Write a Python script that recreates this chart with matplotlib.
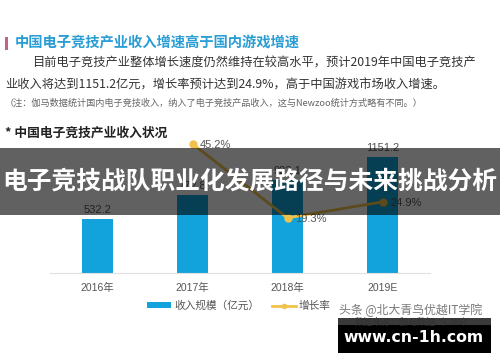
import matplotlib.pyplot as plt
import matplotlib.patches as patches
from matplotlib.lines import Line2D

plt.rcParams['font.family'] = ['Noto Sans CJK SC', 'DejaVu Sans']

years = ['2016年', '2017年', '2018年', '2019E']
revenue = [532.2, 772.8, 922.1, 1151.2]
growth = [None, 45.2, 19.3, 24.9]
revenue_labels = ['532.2', '772.8', '922.1', '1151.2']

W, H = 500, 362
fig = plt.figure(figsize=(5, 3.62), dpi=100)
fig.patch.set_facecolor('white')


def px(x, y):
    # pixel coords (from top-left) to figure fraction
    return x / W, 1 - y / H


# header texts
fig.patches.append(patches.Rectangle(px(5, 50), 3 / W, 13 / H, transform=fig.transFigure,
                                     facecolor='#c2648a', edgecolor='none'))
fig.text(*px(15, 43), '中国电子竞技产业收入增速高于国内游戏增速', fontsize=10.3,
         fontweight='bold', color='#2a9ed4', va='center')
fig.text(*px(32, 63), '目前电子竞技产业整体增长速度仍然维持在较高水平，预计2019年中国电子竞技产',
         fontsize=8.8, color='#333333', va='center')
fig.text(*px(5, 85), '业收入将达到1151.2亿元，增长率预计达到24.9%，高于中国游戏市场收入增速。',
         fontsize=8.8, color='#333333', va='center')
fig.text(*px(5, 103), '（注：伽马数据统计国内电子竞技收入，纳入了电子竞技产品收入，这与Newzoo统计方式略有不同。）',
         fontsize=6.6, color='#666666', va='center')
fig.text(*px(5, 133), '* 中国电子竞技产业收入状况', fontsize=9.2, fontweight='bold',
         color='#222222', va='center')

# chart
ax = fig.add_axes([50 / W, 89 / H, 380 / W, 133 / H])
ax.bar(range(len(years)), revenue, width=0.32, color='#12a3dc', zorder=2)
ax.set_xlim(-0.5, 3.5)
ax.set_ylim(0, 1317)
for s in ['top', 'right', 'left']:
    ax.spines[s].set_visible(False)
ax.spines['bottom'].set_color('#e0e0e0')
ax.set_yticks([])
ax.set_xticks(range(len(years)))
ax.set_xticklabels(years, fontsize=7.5, color='#555555', family=['Liberation Sans', 'Noto Sans CJK SC'])
ax.tick_params(axis='x', length=0, pad=7)
for i, (v, lab) in enumerate(zip(revenue, revenue_labels)):
    ax.text(i, v + 40, lab, ha='center', va='bottom', fontsize=8, color='#555555',
            family='Liberation Sans')

ax2 = ax.twinx()
ax2.set_ylim(0, 46.55)
ax2.axis('off')
gx = [i for i, g in enumerate(growth) if g is not None]
gy = [g for g in growth if g is not None]
ax2.plot(gx, gy, color='#f0c24a', lw=2, marker='o', markersize=5, zorder=3)
for x, g in zip(gx, gy):
    ax2.text(x + 0.08, g - 0.3, f'{g}%', ha='left', va='center', fontsize=8,
             color='#555555', family='Liberation Sans')

# legend
handles = [patches.Patch(facecolor='#12a3dc'),
           Line2D([], [], color='#f0c24a', lw=2, marker='o', markersize=3)]
fig.legend(handles, ['收入规模（亿元）', '增长率'], ncol=2, frameon=False,
           loc='center', bbox_to_anchor=(239 / W, 1 - 306 / H), fontsize=7.7,
           labelcolor='#555555', handlelength=2.2, handleheight=0.5,
           columnspacing=1.2, handletextpad=0.3)

# watermark / source
fig.text(*px(355, 322), '数据来源：伽马数据（CNG）', fontsize=6.5, color='#333333', va='center')
fig.text(*px(339, 310), '头条 @北大青鸟优越IT学院', fontsize=8.6, color='#7a7a7a', va='center')
fig.patches.append(patches.Rectangle(px(338, 353), 153 / W, 35 / H, transform=fig.transFigure,
                                     facecolor='black', edgecolor='none'))
fig.patches.append(patches.Rectangle(px(338, 325), 153 / W, 7 / H, transform=fig.transFigure,
                                     facecolor='#3a3a3a', edgecolor='none'))
fig.text(*px(414, 338), 'www.cn-1h.com', fontsize=11.3, fontweight='bold', color='white',
         ha='center', va='center', family='DejaVu Sans')

# overlay banner
fig.patches.append(patches.Rectangle(px(0, 215), 1, 67 / H, transform=fig.transFigure,
                                     facecolor='black', alpha=0.62, edgecolor='none', zorder=10))
fig.text(*px(250, 182), '电子竞技战队职业化发展路径与未来挑战分析', fontsize=17.8,
         fontweight='bold', color='white', ha='center', va='center', zorder=11)

fig.savefig('out.png', dpi=100)
